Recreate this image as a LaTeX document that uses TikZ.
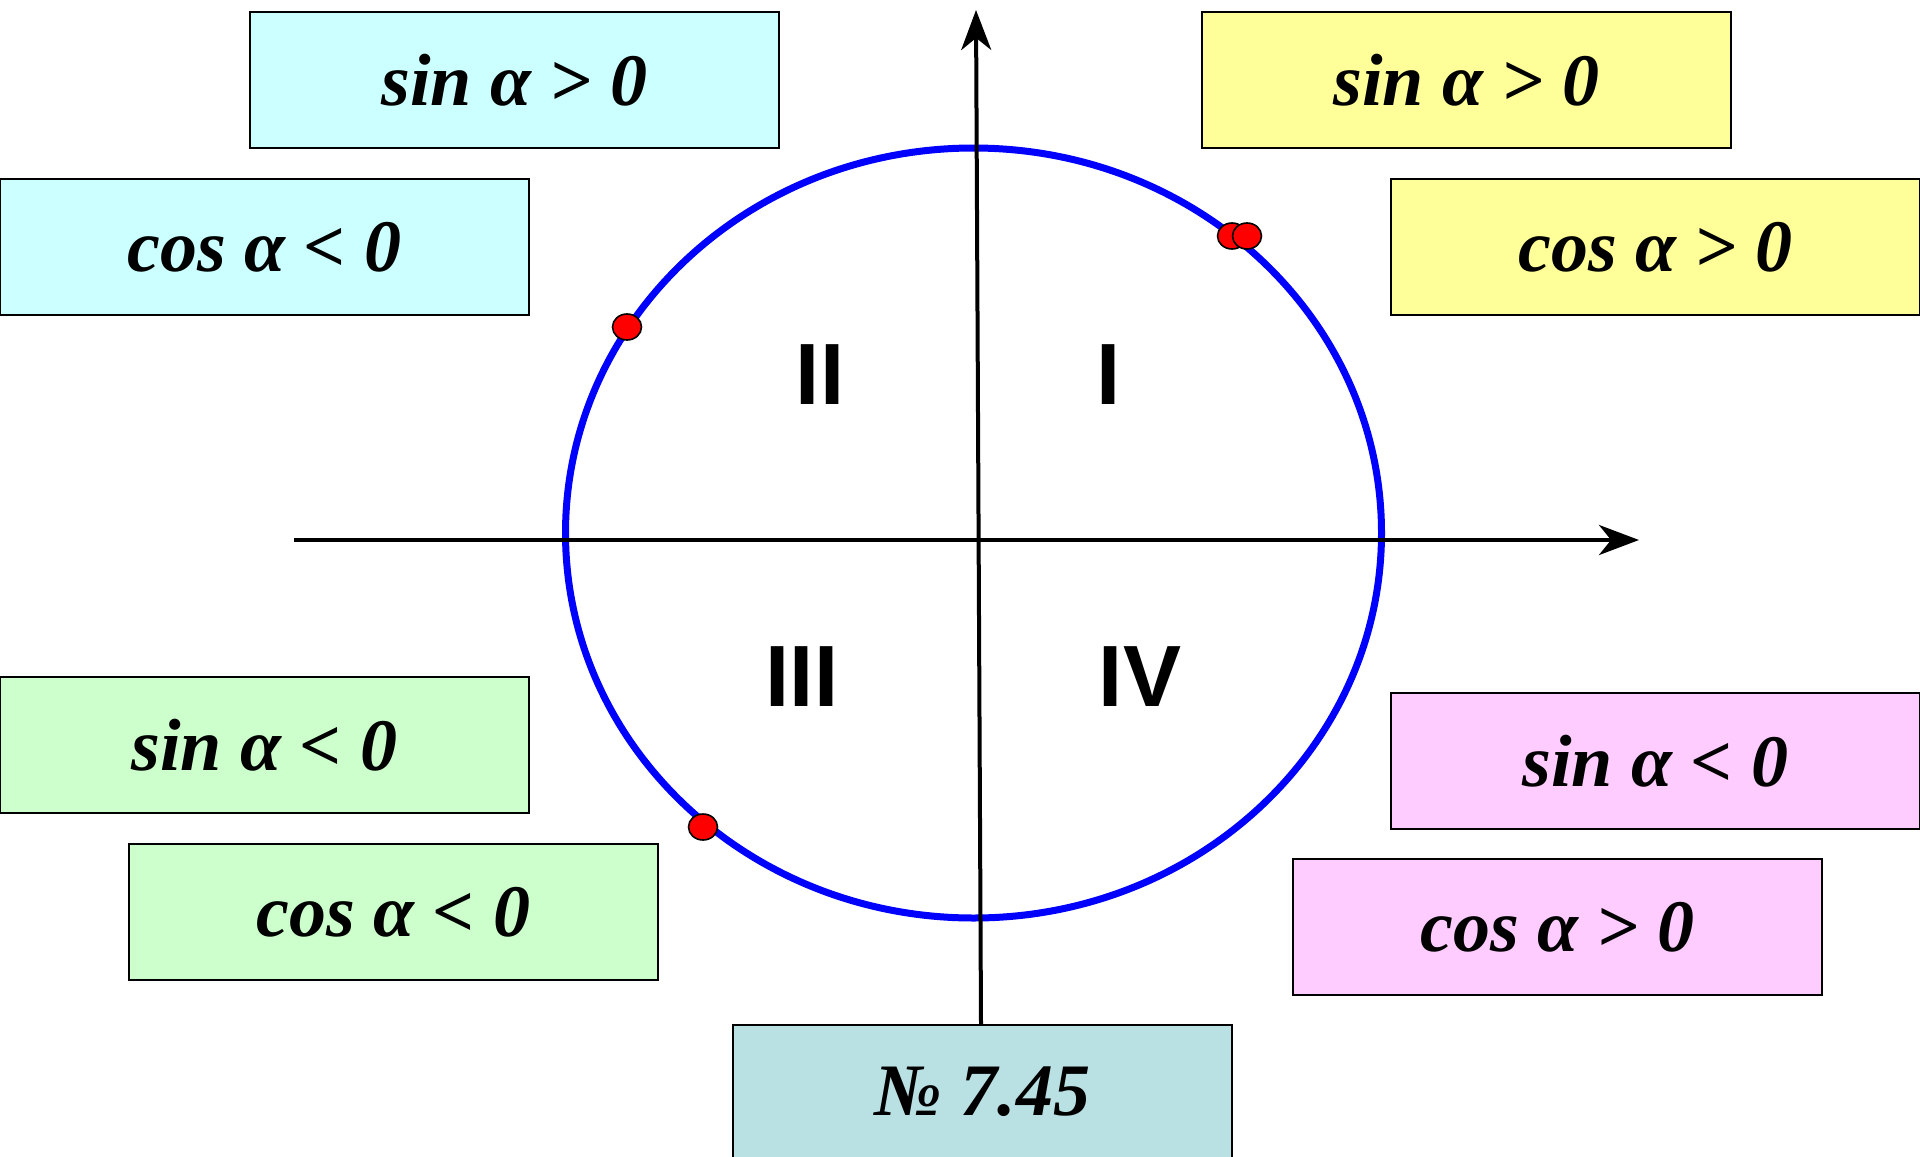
\documentclass[tikz,border=0pt]{standalone}
\usepackage{fontspec}
\setmainfont{Liberation Serif}
\newfontfamily\romfont{Liberation Sans}
\usepackage{xcolor}
\usepackage{tikz}
\usetikzlibrary{arrows.meta, positioning}

\definecolor{cyanbox}{HTML}{CCFFFF}
\definecolor{yellowbox}{HTML}{FFFF99}
\definecolor{greenbox}{HTML}{CCFFCC}
\definecolor{pinkbox}{HTML}{FFCCFF}
\definecolor{numbox}{HTML}{B9E0E3}

\begin{document}
\begin{tikzpicture}[
    x=0.5pt, y=-0.5pt,
    signbox/.style={draw, line width=0.75pt, minimum width=264.5pt, minimum height=68pt, inner sep=0pt,
        font=\fontsize{37}{44}\selectfont\bfseries\itshape},
    quarter/.style={font=\fontsize{43.5}{50}\selectfont\romfont\bfseries},
    axis/.style={line width=2pt, -{Stealth[length=20pt, width=15pt, inset=6pt]}},
    point/.style={fill=red, draw=black, line width=0.8pt},
]
\useasboundingbox (0,0) rectangle (1920,1156);

% Unit circle
\draw[blue, line width=3.5pt] (973.5,533) ellipse [x radius=204pt, y radius=192.5pt];

% Boxes
\node[signbox, fill=cyanbox] (sinII) at (514.5,80) {sin α > 0};
\node[signbox, fill=cyanbox] (cosII) at (264.5,247) {cos α < 0};
\node[signbox, fill=yellowbox] (sinI) at (1466.5,80) {sin α > 0};
\node[signbox, fill=yellowbox] (cosI) at (1655.5,247) {cos α > 0};
\node[signbox, fill=greenbox] (sinIII) at (264.5,745) {sin α < 0};
\node[signbox, fill=greenbox] (cosIII) at (393.5,912) {cos α < 0};
\node[signbox, fill=pinkbox] (sinIV) at (1655.5,761) {sin α < 0};
\node[signbox, fill=pinkbox] (cosIV) at (1557.5,927) {cos α > 0};
\node[signbox, fill=numbox, minimum width=249.5pt, minimum height=66.5pt] (num) at (982.5,1091.5) {№ 7.45};

% Axes
\coordinate (xl) at (294,540);
\coordinate (xr) at (1639,540);
\coordinate (yt) at (976,10);
\draw[axis] (xl) -- (xr);
\draw[axis] (num.north -| 981,0) -- (yt);

% Quarters
\node[quarter] (qI) at (1109,375) {I};
\node[quarter] (qII) at (820,375) {II};
\node[quarter] (qIII) at (802,677) {III};
\node[quarter] (qIV) at (1140,677) {IV};

% Points
\draw[point] (627,327) ellipse [x radius=7.25pt, y radius=6.5pt];
\draw[point] (703,827) ellipse [x radius=7.25pt, y radius=6.5pt];
\draw[point] (1232,236) ellipse [x radius=7.25pt, y radius=6.5pt];
\draw[point] (1247,236) ellipse [x radius=7.25pt, y radius=6.5pt];

\end{tikzpicture}
\end{document}
